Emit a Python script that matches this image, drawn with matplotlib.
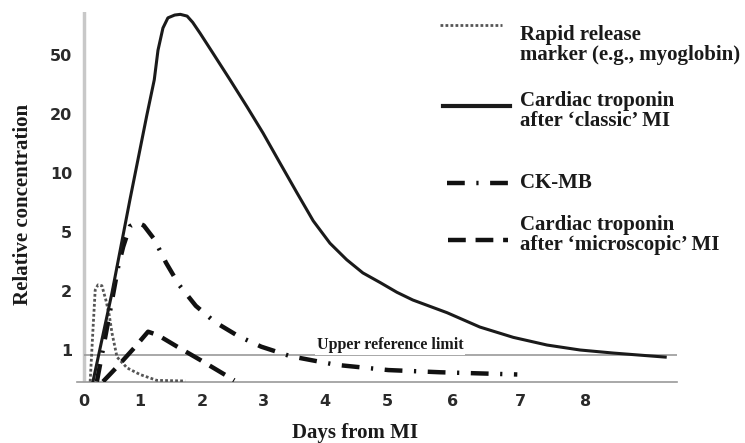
import numpy as np
import matplotlib
matplotlib.use("Agg")
import matplotlib.pyplot as plt
from matplotlib.lines import Line2D

# values (days from MI, relative concentration)
myo_days = [0.11, 0.16, 0.20, 0.25, 0.32, 0.39, 0.45, 0.50, 0.59, 0.77, 1.0, 1.27, 1.73]
myo_conc = [0.69, 1.27, 2.03, 2.2, 2.17, 1.8, 1.51, 1.22, 0.92, 0.81, 0.75, 0.70, 0.695]

tnc_days = [0.16, 0.50, 0.82, 1.11, 1.23, 1.29, 1.37, 1.45, 1.56, 1.65, 1.76, 1.85,
            1.97, 2.18, 2.46, 2.74, 3.00, 3.27, 3.55, 3.81, 4.08, 4.35, 4.61, 4.89,
            5.15, 5.39, 5.91, 6.40, 6.90, 7.41, 7.91, 8.41, 9.20]
tnc_conc = [0.69, 1.96, 7.3, 19.7, 34, 53.8, 76, 89, 93, 94, 91.5, 83,
            70, 51.4, 34, 22.3, 16.0, 11.3, 7.9, 5.7, 4.2, 3.25, 2.65, 2.28,
            1.97, 1.80, 1.55, 1.31, 1.16, 1.06, 1.0, 0.965, 0.92]

ckmb_days = [0.23, 0.43, 0.61, 0.70, 0.82, 0.95, 1.06, 1.23, 1.42, 1.63, 1.90, 2.21,
             2.59, 2.97, 3.44, 4.18, 5.02, 5.80, 6.96]
ckmb_conc = [0.69, 1.39, 2.91, 3.98, 5.35, 5.6, 5.4, 4.47, 3.1, 2.2, 1.68, 1.39,
             1.18, 1.04, 0.93, 0.84, 0.79, 0.77, 0.75]

micro_days = [0.34, 0.59, 0.89, 1.13, 1.29, 1.60, 1.97, 2.53]
micro_conc = [0.69, 0.82, 1.02, 1.24, 1.19, 1.04, 0.89, 0.70]

upper_ref = 0.94

day_ticks = [0, 1, 2, 3, 4, 5, 6, 7, 8]
conc_ticks = [1, 2, 5, 10, 20, 50]
conc_labels = ["1", "2", "5", "10", "20", "50"]

# the original axis is hand drawn: uneven day spacing, equal steps on the y ladder
day_px = [84, 140, 202, 263, 325, 387, 453, 520, 586]
d_ext = np.r_[-1, day_ticks, 10]
p_ext = np.r_[84 - 56, day_px, 586 + 2 * 66]


def xfwd(d):
    return np.interp(d, d_ext, p_ext)


def xinv(p):
    return np.interp(p, p_ext, d_ext)


lv_ext = np.r_[-1.0, np.log10(conc_ticks), np.log10(500)]
iv_ext = np.r_[-1 / np.log10(2), np.arange(6), 5 + 1 / np.log10(2.5)]


def yfwd(v):
    return np.interp(np.log10(np.clip(v, 1e-6, None)), lv_ext, iv_ext)


def yinv(i):
    return 10 ** np.interp(i, iv_ext, lv_ext)


W, H = 745, 443
fig = plt.figure(figsize=(W / 100, H / 100), dpi=100)
ax = fig.add_axes([77 / W, 61 / H, 600 / W, 370 / H])
ax.set_xscale("function", functions=(xfwd, xinv))
ax.set_yscale("function", functions=(yfwd, yinv))
ax.set_xlim(xinv(77), xinv(677))
ax.set_ylim(yinv(-32 / 59), yinv(338 / 59))

for s in ["top", "right", "left"]:
    ax.spines[s].set_visible(False)
ax.spines["bottom"].set_color("#9a9a9a")
ax.spines["bottom"].set_linewidth(1.2)

ax.axvline(0, color="#c8c8c8", lw=2.5, zorder=1)
ax.hlines(upper_ref, 0, xinv(677), color="#9a9a9a", lw=1.2, zorder=1)

dot_style = (0, (1.0, 0.8))
dashdot_style = (0, (4.0, 2.6, 0.5, 2.6))
dash_style = (0, (4.0, 2.2))

ax.plot(myo_days, myo_conc, color="#555555", lw=2.0, ls=dot_style, zorder=3)
ax.plot(tnc_days, tnc_conc, color="#1a1a1a", lw=2.2, zorder=4)
ax.plot(ckmb_days, ckmb_conc, color="#111111", lw=3.2, ls=dashdot_style, zorder=3)
ax.plot(micro_days, micro_conc, color="#111111", lw=3.2, ls=dash_style, zorder=3)

ax.set_xticks(day_ticks)
ax.set_xticklabels([str(d) for d in day_ticks])
ax.set_yticks(conc_ticks)
ax.set_yticklabels(conc_labels)
ax.minorticks_off()
ax.tick_params(axis="x", length=0, pad=8.5, labelsize=11.5, labelcolor="#2a2a2a")
ax.tick_params(axis="y", length=0, pad=3.5, labelsize=11.5, labelcolor="#2a2a2a")
for lab in ax.get_xticklabels() + ax.get_yticklabels():
    lab.set_fontweight("bold")
    lab.set_family(["DejaVu Sans"])

serif = ["Liberation Serif", "DejaVu Serif"]


def fx(px):
    return px / W


def fy(py):
    return 1 - py / H


ax.text(xinv(390), yinv(5 / 59), "Upper reference limit", ha="center", va="center",
        fontsize=11.5, fontweight="bold", family=serif, color="#1a1a1a", zorder=5,
        bbox=dict(facecolor="white", edgecolor="none", pad=1.5))

fig.text(fx(355), fy(433), "Days from MI", ha="center", va="center",
         fontsize=15, fontweight="bold", family=serif, color="#1a1a1a")
fig.text(fx(23), fy(204), "Relative concentration", ha="center", va="center",
         rotation=90, fontsize=15, fontweight="bold", family=serif, color="#1a1a1a")

# hand-made key on the right
key = [
    ([440, 502], 25, dict(color="#555555", lw=2.0, ls=dot_style),
     "Rapid release\nmarker (e.g., myoglobin)", 45),
    ([443, 510], 106, dict(color="#1a1a1a", lw=3.0),
     "Cardiac troponin\nafter \u2018classic\u2019 MI", 111),
    ([447, 508], 183, dict(color="#111111", lw=3.2, ls=dashdot_style),
     "CK-MB", 183),
    ([448, 508], 240, dict(color="#111111", lw=3.2, ls=dash_style),
     "Cardiac troponin\nafter \u2018microscopic\u2019 MI", 235),
]
for xs, ly, style, label, ty in key:
    fig.add_artist(Line2D([fx(xs[0]), fx(xs[1])], [fy(ly), fy(ly)],
                          transform=fig.transFigure, **style))
    fig.text(fx(520), fy(ty), label, ha="left", va="center", fontsize=15,
             fontweight="bold", family=serif, color="#1a1a1a", linespacing=1.05)

fig.savefig("out.png", dpi=100)
